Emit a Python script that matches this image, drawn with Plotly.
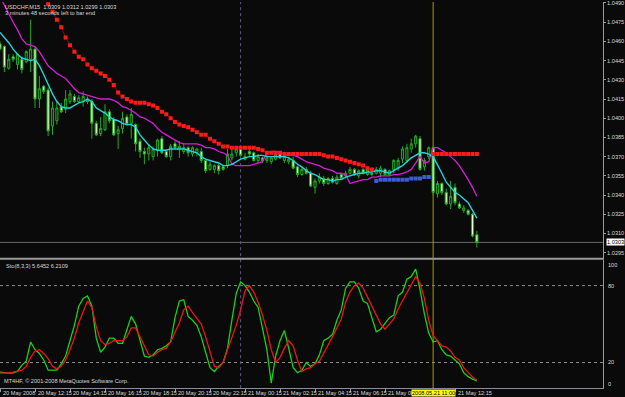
import plotly.graph_objects as go

# ---------------- data ----------------
bars = list(range(110))  # M15 bars, bar 0 = 20 May 2008 10:15

opens = [1.0458,1.0456,1.0439,1.0448,1.0442,1.0446,1.0444,1.0446,1.0454,1.0415,
         1.0425,1.0422,1.0394,1.0398,1.0409,1.0407,1.0413,1.0417,1.0413,1.0413,
         1.0415,1.0413,1.0396,1.0388,1.0391,1.0405,1.0399,1.0388,1.0392,1.0401,
         1.0396,1.0395,1.0382,1.0374,1.0372,1.0370,1.0375,1.0384,1.0374,1.0370,
         1.0380,1.0376,1.0374,1.0377,1.0372,1.0373,1.0374,1.0367,1.0360,1.0360,
         1.0363,1.0362,1.0363,1.0369,1.0373,1.0376,1.0368,1.0374,1.0373,1.0367,
         1.0369,1.0367,1.0366,1.0368,1.0372,1.0367,1.0366,1.0367,1.0362,1.0356,
         1.0360,1.0357,1.0346,1.0351,1.0353,1.0349,1.0353,1.0349,1.0356,1.0355,
         1.0357,1.0360,1.0355,1.0360,1.0356,1.0357,1.0357,1.0357,1.0360,1.0356,
         1.0360,1.0361,1.0368,1.0367,1.0376,1.0380,1.0384,1.0362,1.0370,1.0377,
         1.0341,1.0349,1.0342,1.0333,1.0346,1.0333,1.0328,1.0328,1.0325,1.0309]
highs = [1.0460,1.0457,1.0450,1.0450,1.0450,1.0448,1.0453,1.0477,1.0456,1.0433,
         1.0426,1.0424,1.0413,1.0413,1.0412,1.0422,1.0422,1.0419,1.0418,1.0421,
         1.0417,1.0415,1.0398,1.0401,1.0411,1.0407,1.0401,1.0394,1.0405,1.0403,
         1.0408,1.0396,1.0384,1.0377,1.0380,1.0378,1.0384,1.0386,1.0376,1.0380,
         1.0382,1.0382,1.0380,1.0378,1.0378,1.0377,1.0377,1.0368,1.0366,1.0364,
         1.0365,1.0363,1.0376,1.0378,1.0378,1.0377,1.0373,1.0376,1.0374,1.0372,
         1.0370,1.0373,1.0370,1.0374,1.0373,1.0371,1.0370,1.0370,1.0363,1.0362,
         1.0362,1.0359,1.0353,1.0357,1.0355,1.0354,1.0355,1.0356,1.0357,1.0359,
         1.0362,1.0361,1.0360,1.0361,1.0361,1.0359,1.0362,1.0363,1.0361,1.0360,
         1.0368,1.0369,1.0378,1.0380,1.0384,1.0387,1.0386,1.0369,1.0378,1.0378,
         1.0351,1.0350,1.0345,1.0351,1.0349,1.0335,1.0332,1.0329,1.0326,1.0312]
lows  = [1.0453,1.0436,1.0438,1.0444,1.0438,1.0435,1.0443,1.0436,1.0408,1.0408,
         1.0419,1.0386,1.0387,1.0395,1.0404,1.0404,1.0411,1.0412,1.0412,1.0409,
         1.0411,1.0384,1.0386,1.0386,1.0390,1.0396,1.0386,1.0376,1.0388,1.0394,
         1.0384,1.0374,1.0369,1.0364,1.0367,1.0367,1.0370,1.0372,1.0369,1.0367,
         1.0376,1.0369,1.0372,1.0370,1.0370,1.0370,1.0365,1.0357,1.0359,1.0357,
         1.0356,1.0359,1.0361,1.0367,1.0370,1.0370,1.0367,1.0370,1.0366,1.0365,
         1.0365,1.0365,1.0364,1.0367,1.0368,1.0365,1.0364,1.0360,1.0354,1.0355,
         1.0356,1.0346,1.0341,1.0349,1.0347,1.0348,1.0349,1.0348,1.0352,1.0353,
         1.0356,1.0355,1.0353,1.0356,1.0355,1.0355,1.0356,1.0354,1.0355,1.0355,
         1.0357,1.0359,1.0365,1.0365,1.0373,1.0377,1.0359,1.0359,1.0368,1.0340,
         1.0338,1.0340,1.0332,1.0329,1.0332,1.0329,1.0326,1.0324,1.0307,1.0299]
closes = [1.0454,1.0440,1.0446,1.0446,1.0450,1.0438,1.0452,1.0454,1.0415,1.0423,
          1.0421,1.0390,1.0408,1.0408,1.0405,1.0415,1.0419,1.0413,1.0416,1.0417,
          1.0413,1.0396,1.0387,1.0392,1.0405,1.0398,1.0387,1.0391,1.0400,1.0395,
          1.0403,1.0380,1.0374,1.0372,1.0377,1.0376,1.0383,1.0373,1.0370,1.0378,
          1.0377,1.0378,1.0377,1.0373,1.0377,1.0376,1.0367,1.0359,1.0364,1.0363,
          1.0359,1.0360,1.0372,1.0372,1.0376,1.0371,1.0370,1.0372,1.0367,1.0370,
          1.0367,1.0369,1.0369,1.0372,1.0369,1.0370,1.0368,1.0361,1.0356,1.0360,
          1.0357,1.0347,1.0351,1.0354,1.0349,1.0353,1.0350,1.0354,1.0353,1.0357,
          1.0360,1.0356,1.0359,1.0357,1.0360,1.0356,1.0360,1.0361,1.0356,1.0359,
          1.0367,1.0367,1.0376,1.0377,1.0380,1.0386,1.0360,1.0367,1.0377,1.0342,
          1.0349,1.0342,1.0333,1.0339,1.0334,1.0330,1.0330,1.0325,1.0308,1.0303]

ma_fast = [1.0467,1.0463,1.0459,1.0454,1.0450,1.0447,1.0446,1.0445,1.0446,1.0441,
           1.0434,1.0426,1.0419,1.0413,1.0409,1.0408,1.0408,1.0410,1.0412,1.0413,
           1.0415,1.0413,1.0408,1.0406,1.0404,1.0401,1.0399,1.0398,1.0396,1.0395,
           1.0395,1.0393,1.0387,1.0383,1.0379,1.0376,1.0375,1.0375,1.0375,1.0376,
           1.0376,1.0376,1.0376,1.0375,1.0374,1.0373,1.0370,1.0368,1.0367,1.0366,
           1.0365,1.0363,1.0363,1.0364,1.0366,1.0368,1.0369,1.0370,1.0370,1.0371,
           1.0371,1.0370,1.0370,1.0370,1.0370,1.0370,1.0369,1.0367,1.0364,1.0362,
           1.0359,1.0357,1.0356,1.0354,1.0352,1.0352,1.0351,1.0352,1.0352,1.0354,
           1.0355,1.0356,1.0357,1.0357,1.0358,1.0358,1.0359,1.0359,1.0358,1.0357,
           1.0359,1.0361,1.0363,1.0366,1.0369,1.0371,1.0373,1.0373,1.0372,1.0370,
           1.0364,1.0357,1.0350,1.0346,1.0342,1.0340,1.0337,1.0334,1.0328,1.0322]
ma_slow = [1.0495,1.0488,1.0481,1.0475,1.0469,1.0462,1.0458,1.0457,1.0456,1.0452,
           1.0446,1.0441,1.0438,1.0435,1.0433,1.0431,1.0427,1.0423,1.0420,1.0419,
           1.0418,1.0417,1.0416,1.0415,1.0415,1.0415,1.0414,1.0412,1.0409,1.0408,
           1.0406,1.0404,1.0401,1.0400,1.0398,1.0396,1.0392,1.0389,1.0387,1.0385,
           1.0383,1.0381,1.0380,1.0380,1.0380,1.0380,1.0379,1.0377,1.0377,1.0376,
           1.0374,1.0373,1.0371,1.0364,1.0363,1.0363,1.0363,1.0363,1.0364,1.0365,
           1.0366,1.0373,1.0374,1.0374,1.0373,1.0372,1.0371,1.0371,1.0370,1.0368,
           1.0366,1.0365,1.0364,1.0363,1.0361,1.0360,1.0359,1.0357,1.0357,1.0356,
           1.0349,1.0350,1.0351,1.0352,1.0352,1.0354,1.0354,1.0355,1.0355,1.0355,
           1.0356,1.0356,1.0357,1.0358,1.0360,1.0365,1.0370,1.0365,1.0366,1.0377,
           1.0377,1.0375,1.0373,1.0370,1.0367,1.0363,1.0358,1.0352,1.0346,1.0339]

N = None
sar_above = [N]*10 + [1.0496,1.0489,1.0483,1.0477,1.0471,1.0463,1.0457,1.0452,1.0448,1.0446,
                      1.0442,1.0439,1.0437,1.0435,1.0433,1.0430,1.0426,1.0420,1.0417,1.0415,
                      1.0413,1.0412,1.0412,1.0412,1.0411,1.0410,1.0408,1.0405,1.0403,1.0400,
                      1.0397,1.0395,1.0394,1.0393,1.0391,1.0389,1.0387,1.0387,1.0384,1.0382,
                      1.0380,1.0378,1.0378,1.0377,1.0377,1.0377,1.0377,1.0377,1.0377,1.0376,
                      1.0375,1.0373,1.0373,1.0373,1.0373,1.0372,1.0372,1.0372,1.0372,1.0372,
                      1.0372,1.0372,1.0372,1.0372,1.0371,1.0370,1.0370,1.0369,1.0368,1.0367,
                      1.0366,1.0365,1.0364,1.0363,1.0361,1.0360] \
            + [N]*13 + [1.0372]*11
sar_below = [N]*86 + [1.0351,1.0352,1.0352,1.0352,1.0352,1.0352,1.0352,1.0352,
                      1.0353,1.0353,1.0353,1.0354,1.0354] + [N]*11

stoch_k = [12.5,12,11.7,12,13,18,21,36,30,27,
           22,14,14,14,19,25,37,49,64,70,
           72,64,39,28,32,39,39,35,35,45,
           56,50,37,25,24,26,30,31,33,36,
           55,68,69,56,53,49,40,28,16,13,
           17,20,31,53,74,83,80,75,68,63,
           47,30,4,25,37,45,31,16,12,14,
           20,17,19,26,37,39,42,53,61,78,
           83,83,78,68,66,54,44,46,51,55,
           57,72,75,85,87,93,77,58,43,36,
           37,30,26,25,22,19,12,9,7,5.6452]
stoch_d = [11.7,11.7,12,12.5,13,14,17,24,29,30,
           27,23,17,15,17,22,30,39,51,60,
           68,63,48,37,34,35,37,37,37,40,
           47,47,40,32,26,25,28,30,31,36,
           44,51,61,64,59,54,50,40,28,17,
           16,20,30,39,49,61,76,80,75,67,
           57,45,30,20,24,31,37,33,22,13,
           15,16,19,21,27,33,40,47,54,67,
           75,80,82,78,71,64,57,50,46,50,
           54,62,68,74,80,87,82,70,53,41,
           37,33,32,29,24,22,16,12,8.6,6.2109]

price_ticks = [1.0295,1.0310,1.0325,1.0340,1.0355,1.0370,1.0385,1.0400,
               1.0415,1.0430,1.0445,1.0460,1.0475,1.0490]
time_tick_bars = [0,8,16,24,32,40,48,56,64,72,80,88,104]
time_tick_text = ["20 May 2008","20 May 12:15","20 May 14:15","20 May 16:15",
                  "20 May 18:15","20 May 20:15","20 May 22:15","21 May 00:15",
                  "21 May 02:15","21 May 04:15","21 May 06:15","21 May 08:15",
                  "21 May 12:15"]
day_separator_bar = 55      # 21 May 00:00
marked_bar = 99             # 21 May 11:00
marked_text = "2008.05.21 11:00"
last_close = closes[-1]
stoch_levels = [80, 20]

# ---------------- geometry / style ----------------
W, H = 625, 397
PX = 4.375                # pixels per bar
PLOT_W = 603
XR = [0, PLOT_W / PX]
K = 0.0015 / 19.3         # price per pixel
main_top_px, main_bot_px = 0, 257
st_top_px, st_bot_px = 259.3, 388.1
yr = [1.0490 - (main_bot_px - 1) * K, 1.0490 + 1 * K]

def py(p):  # pixel -> paper y
    return 1 - p / H

def pxp(p):  # pixel -> paper x
    return p / W

BG = "#0a0a0a"
GREEN = "#22a822"
FONT = "Liberation Sans"
TXT = "#d8d8d8"
FS = 5.6

fig = go.Figure()

fig.add_trace(go.Candlestick(
    x=bars, open=opens, high=highs, low=lows, close=closes,
    increasing=dict(line=dict(color=GREEN, width=1), fillcolor="#0d2a0d"),
    decreasing=dict(line=dict(color=GREEN, width=1), fillcolor="#eaffcc"),
    whiskerwidth=0, hoverinfo="skip", xaxis="x", yaxis="y"))

fig.add_trace(go.Scatter(x=bars, y=ma_slow, mode="lines",
                         line=dict(color="#d21fd2", width=1.3), xaxis="x", yaxis="y"))
fig.add_trace(go.Scatter(x=bars, y=ma_fast, mode="lines",
                         line=dict(color="#20d4dc", width=1.4), xaxis="x", yaxis="y"))
fig.add_trace(go.Scatter(x=bars, y=sar_above, mode="lines+markers",
                         line=dict(color="#8a0808", width=1),
                         marker=dict(color="#ff1a1a", size=4, symbol="square"),
                         xaxis="x", yaxis="y"))
fig.add_trace(go.Scatter(x=bars, y=sar_below, mode="lines+markers",
                         line=dict(color="#223a90", width=1),
                         marker=dict(color="#3a5ad8", size=4, symbol="square"),
                         xaxis="x", yaxis="y"))

fig.add_trace(go.Scatter(x=bars, y=stoch_k, mode="lines",
                         line=dict(color="#14d414", width=1.3), xaxis="x2", yaxis="y2"))
fig.add_trace(go.Scatter(x=bars, y=stoch_d, mode="lines",
                         line=dict(color="#ee1414", width=1.3), xaxis="x2", yaxis="y2"))

shapes = []
# bid line
shapes.append(dict(type="line", xref="paper", yref="y", x0=0, x1=pxp(PLOT_W),
                   y0=last_close, y1=last_close, line=dict(color="#6a6a6a", width=1),
                   layer="below"))
# stochastic levels
for lv in stoch_levels:
    shapes.append(dict(type="line", xref="paper", yref="y2", x0=0, x1=pxp(PLOT_W),
                       y0=lv, y1=lv, line=dict(color="#8a8a8a", width=1, dash="dot"),
                       layer="below"))
# day separator
shapes.append(dict(type="line", xref="x", yref="paper", x0=day_separator_bar,
                   x1=day_separator_bar, y0=py(st_bot_px), y1=1,
                   line=dict(color="#5a5a88", width=1, dash="dot"), layer="below"))
# marked time line
shapes.append(dict(type="line", xref="x", yref="paper", x0=marked_bar, x1=marked_bar,
                   y0=py(st_bot_px), y1=1, line=dict(color="#a89c00", width=1),
                   layer="below"))
# panel separator
shapes.append(dict(type="line", xref="paper", yref="paper", x0=0, x1=pxp(PLOT_W + 1),
                   y0=py(258), y1=py(258), line=dict(color="#9a9a9a", width=2)))

ann = []
def txt(text, xp, yp, **kw):
    d = dict(text=text, xref="paper", yref="paper", x=pxp(xp), y=py(yp),
             xanchor="left", yanchor="middle", showarrow=False,
             font=dict(family=FONT, size=FS, color=TXT))
    d.update(kw)
    return d

ann.append(txt("USDCHF,M15  1.0309 1.0312 1.0299 1.0303", 3, 5))
ann.append(txt("3 minutes 48 seconds left to bar end", 3, 11))
ann.append(txt("Sto(8,3,3) 5.6452 6.2109", 4, 265))
ann.append(txt("MT4HF, © 2001-2008 MetaQuotes Software Corp.", 2, 381))
for lbl, ypx in [("100", 264), ("80", 285), ("20", 362), ("0", 384)]:
    ann.append(txt(lbl, 606, ypx))
for b, t in zip(time_tick_bars, time_tick_text):
    ann.append(dict(text=t, xref="x", yref="paper", x=b, xshift=1, y=py(392.5),
                    xanchor="left", yanchor="middle", showarrow=False,
                    font=dict(family=FONT, size=FS, color=TXT)))
ann.append(dict(text=marked_text, xref="x", yref="paper", x=marked_bar, y=py(392.5),
                xanchor="center", yanchor="middle", showarrow=False, bgcolor="#ffff00",
                borderpad=0, font=dict(family=FONT, size=FS, color="#000000")))
ann.append(dict(text="%.4f" % last_close, xref="paper", yref="y", x=pxp(606),
                y=last_close, xanchor="left", yanchor="middle", showarrow=False,
                bgcolor="#ffffff", borderpad=0,
                font=dict(family=FONT, size=FS, color="#000000")))

fig.update_layout(
    width=W, height=H, margin=dict(l=0, r=0, t=0, b=0),
    paper_bgcolor=BG, plot_bgcolor=BG, showlegend=False, boxgap=0.3,
    shapes=shapes, annotations=ann,
    xaxis=dict(domain=[0, pxp(PLOT_W)], range=XR, anchor="y", visible=False,
               rangeslider=dict(visible=False), showgrid=False),
    yaxis=dict(domain=[py(main_bot_px), py(main_top_px)], range=yr, side="right",
               anchor="x", tickvals=price_ticks,
               ticktext=["%.4f" % v for v in price_ticks],
               tickfont=dict(family=FONT, size=FS, color=TXT),
               ticklabeloverflow="allow",
               ticks="outside", ticklen=2, tickcolor="#9a9a9a",
               showgrid=False, zeroline=False, showline=True, linecolor="#9a9a9a"),
    xaxis2=dict(domain=[0, pxp(PLOT_W)], range=XR, anchor="y2", matches="x",
                showgrid=False, zeroline=False, showline=True, linecolor="#8a8aa0",
                tickvals=time_tick_bars, ticks="outside", ticklen=3,
                tickcolor="#9a9a9a", showticklabels=False),
    yaxis2=dict(domain=[py(st_bot_px), py(st_top_px)], range=[0, 100], side="right",
                anchor="x2", showgrid=False, zeroline=False, showline=True,
                linecolor="#9a9a9a", showticklabels=False, ticks=""),
)

fig.write_html("out.html")
